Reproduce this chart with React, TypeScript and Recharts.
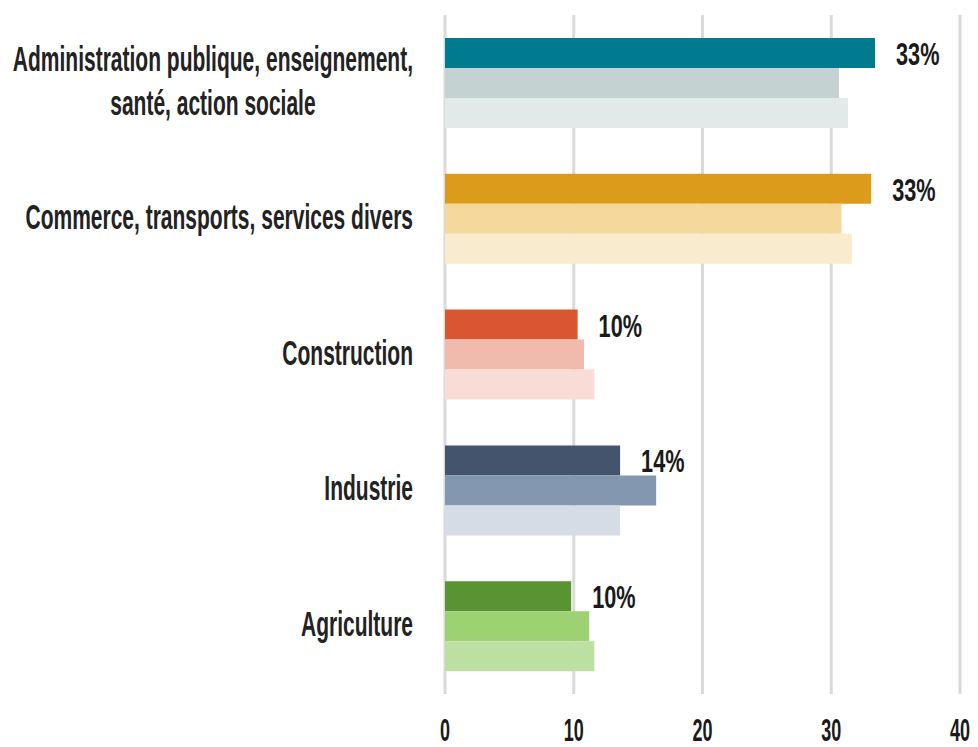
import { Bar, BarChart, CartesianGrid, Cell, LabelList, XAxis, YAxis } from "recharts";

const categories = [
  "Administration publique, enseignement, santé, action sociale",
  "Commerce, transports, services divers",
  "Construction",
  "Industrie",
  "Agriculture",
];
const serie1 = [33.4, 33.1, 10.3, 13.6, 9.8];
const serie2 = [30.6, 30.8, 10.8, 16.4, 11.2];
const serie3 = [31.3, 31.6, 11.6, 13.6, 11.6];
const xTicks = [0, 10, 20, 30, 40];

// one shade per category, dark -> light
const colors1 = ["#007a8e", "#dc9b1a", "#da5631", "#44546c", "#5a9332"];
const colors2 = ["#c4d2d2", "#f5d89c", "#f0baac", "#8497b0", "#9dd272"];
const colors3 = ["#e2e9e9", "#f9ebcd", "#f8dcd5", "#d6dce5", "#bbe0a1"];

const data = categories.map((name, i) => ({
  name,
  serie1: serie1[i],
  serie2: serie2[i],
  serie3: serie3[i],
}));

const FONT = '"Liberation Sans", Arial, sans-serif';
const SQUEEZE = 0.6; // fake a condensed face

let ctx: CanvasRenderingContext2D | null = null;
function measure(text: string, size: number) {
  if (!ctx) ctx = document.createElement("canvas").getContext("2d");
  ctx!.font = `bold ${size}px ${FONT}`;
  return ctx!.measureText(text).width * SQUEEZE;
}

function wrap(label: string, size: number, maxWidth: number) {
  const words = label.split(" ");
  const lines: string[] = [];
  let cur = "";
  for (const w of words) {
    const next = cur ? cur + " " + w : w;
    if (cur && measure(next, size) > maxWidth) {
      lines.push(cur);
      cur = w;
    } else {
      cur = next;
    }
  }
  if (cur) lines.push(cur);
  return lines;
}

function CategoryTick({ x, y, payload }: any) {
  const size = 35;
  const lineH = 44;
  const lines = wrap(payload.value, size, 410);
  const block = Math.max(...lines.map((l) => measure(l, size)));
  const cx = x - 32 - block / 2;
  const first = y + 10 - ((lines.length - 1) * lineH) / 2;
  return (
    <g>
      {lines.map((l, i) => (
        <text
          key={i}
          transform={`translate(${cx},${first + i * lineH}) scale(${SQUEEZE},1)`}
          textAnchor="middle"
          fontFamily={FONT}
          fontWeight="bold"
          fontSize={size}
          fill="#222"
        >
          {l}
        </text>
      ))}
    </g>
  );
}

function ValueTick({ x, y, payload }: any) {
  return (
    <text
      transform={`translate(${Math.min(x, 962)},${y + 47}) scale(0.58,1)`}
      textAnchor="middle"
      fontFamily={FONT}
      fontWeight="bold"
      fontSize={31}
      fill="#1a1a1a"
    >
      {payload.value}
    </text>
  );
}

function PctLabel({ x, y, width, height, value }: any) {
  return (
    <text
      transform={`translate(${x + width + 21},${y + height / 2 + 12}) scale(0.7,1)`}
      fontFamily={FONT}
      fontWeight="bold"
      fontSize={31}
      fill="#1a1a1a"
    >
      {Math.round(value)}%
    </text>
  );
}

export default function App() {
  return (
    <div style={{ position: "absolute", left: 0, top: 0, background: "#fff" }}>
      <BarChart
        width={978}
        height={747}
        data={data}
        layout="vertical"
        margin={{ top: 15, right: 18, bottom: 0, left: 0 }}
        barGap={0}
        barCategoryGap={23}
      >
        <CartesianGrid horizontal={false} stroke="#dadada" strokeWidth={3} />
        <XAxis
          type="number"
          domain={[0, 40]}
          ticks={xTicks}
          interval={0}
          axisLine={false}
          tickLine={false}
          tickSize={0}
          tickMargin={0}
          height={53}
          tick={(p: any) => <ValueTick {...p} />}
        />
        <YAxis
          type="category"
          dataKey="name"
          width={445}
          interval={0}
          axisLine={false}
          tickLine={false}
          tickSize={0}
          tickMargin={0}
          tick={(p: any) => <CategoryTick {...p} />}
        />
        <Bar dataKey="serie1" isAnimationActive={false}>
          {colors1.map((c, i) => (
            <Cell key={i} fill={c} />
          ))}
          <LabelList dataKey="serie1" content={(p: any) => <PctLabel {...p} />} />
        </Bar>
        <Bar dataKey="serie2" isAnimationActive={false}>
          {colors2.map((c, i) => (
            <Cell key={i} fill={c} />
          ))}
        </Bar>
        <Bar dataKey="serie3" isAnimationActive={false}>
          {colors3.map((c, i) => (
            <Cell key={i} fill={c} />
          ))}
        </Bar>
      </BarChart>
    </div>
  );
}
